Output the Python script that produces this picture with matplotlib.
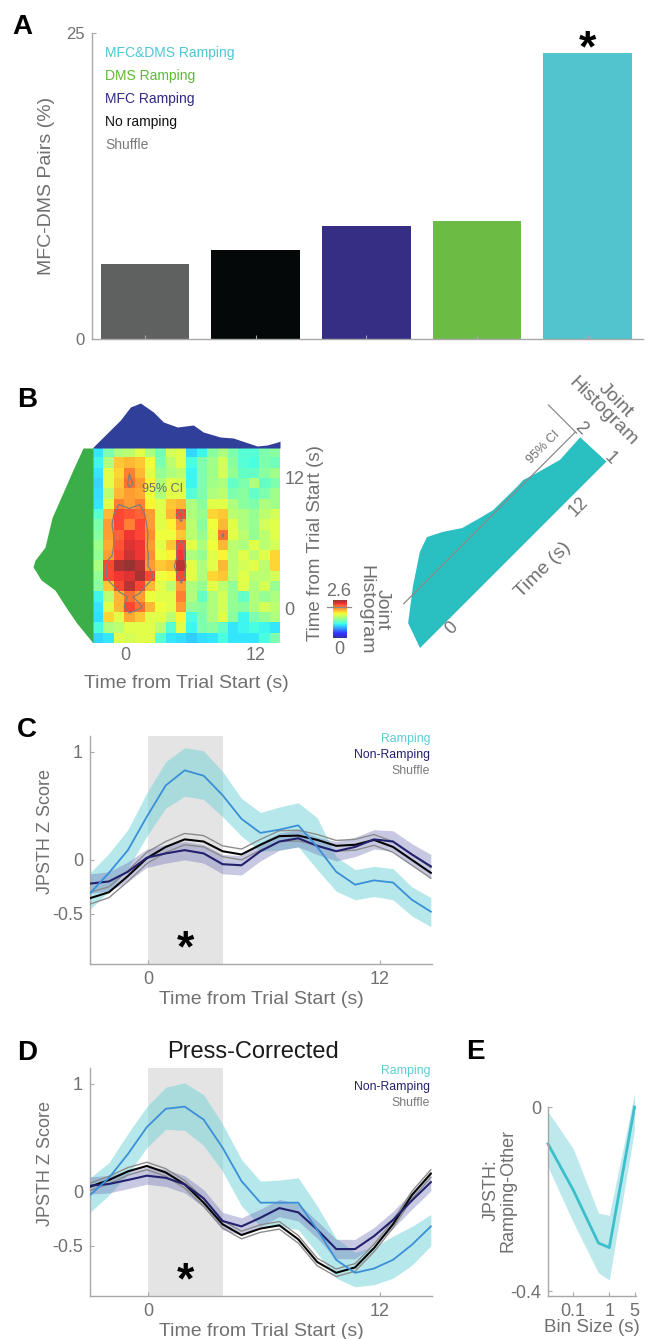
import numpy as np
import matplotlib
matplotlib.use('Agg')
import matplotlib.pyplot as plt
from matplotlib.transforms import Affine2D

plt.rcParams['font.family'] = ['Liberation Sans', 'DejaVu Sans']

# ---------------- Panel A data ----------------
pair_groups = ['Shuffle', 'No ramping', 'MFC Ramping', 'DMS Ramping', 'MFC&DMS Ramping']
pair_pct = [6.1, 7.3, 9.2, 9.6, 23.4]
pair_colors = ['#5f6160', '#050808', '#362d84', '#6bbb45', '#52c4cd']
legend_colors = ['#7a7a7a', '#111111', '#2f2a88', '#5dbb35', '#4fc6d0']

# ---------------- Panel B data ----------------
joint_hist = np.array([
    [0.90, 1.20, 1.40, 1.45, 1.60, 1.40, 1.15, 1.55, 1.60, 0.85, 0.95, 1.25, 1.40, 1.20, 1.05, 1.05, 1.20, 1.25],
    [0.95, 1.40, 1.85, 1.90, 1.85, 1.65, 1.20, 1.45, 1.60, 1.00, 1.20, 1.35, 1.55, 1.25, 1.05, 1.00, 1.20, 1.15],
    [0.90, 1.60, 1.80, 2.10, 1.90, 1.60, 1.30, 1.40, 1.45, 0.95, 1.20, 1.35, 1.55, 1.30, 1.10, 1.10, 1.25, 1.35],
    [0.85, 1.60, 1.85, 2.15, 2.00, 1.70, 1.40, 1.60, 1.55, 0.95, 1.20, 1.35, 1.40, 1.10, 1.20, 1.40, 1.10, 1.20],
    [0.88, 1.45, 1.90, 2.00, 1.95, 1.65, 1.40, 1.60, 1.60, 1.05, 1.20, 1.40, 1.45, 1.20, 1.25, 1.10, 1.20, 1.35],
    [0.90, 1.60, 2.10, 2.00, 2.10, 1.70, 1.60, 1.85, 1.90, 1.40, 1.25, 1.60, 1.60, 1.40, 1.25, 1.20, 1.40, 1.35],
    [1.05, 1.90, 2.30, 2.25, 2.20, 2.00, 1.60, 1.90, 2.30, 1.40, 1.30, 1.80, 1.85, 1.45, 1.40, 1.30, 1.45, 1.55],
    [1.20, 2.00, 2.30, 2.10, 2.30, 2.00, 1.60, 1.70, 2.00, 1.45, 1.25, 1.65, 1.90, 1.60, 1.40, 1.30, 1.55, 1.60],
    [1.25, 2.00, 2.20, 2.35, 2.30, 2.05, 1.65, 1.65, 1.85, 1.45, 1.30, 1.60, 2.15, 1.60, 1.45, 1.30, 1.45, 1.60],
    [1.35, 1.95, 2.25, 2.40, 2.35, 2.00, 1.60, 1.85, 2.30, 1.60, 1.40, 1.65, 1.90, 1.45, 1.40, 1.60, 1.45, 1.55],
    [1.30, 2.00, 2.30, 2.45, 2.35, 2.05, 1.65, 1.70, 2.35, 1.40, 1.30, 1.60, 1.70, 1.45, 1.60, 1.45, 1.60, 1.80],
    [1.40, 2.30, 2.55, 2.60, 2.50, 2.00, 1.85, 1.90, 2.50, 1.60, 1.40, 1.60, 1.90, 1.45, 1.55, 1.60, 1.45, 1.80],
    [1.30, 2.30, 2.35, 2.40, 2.55, 2.30, 1.65, 1.70, 2.30, 1.60, 1.40, 1.80, 1.85, 1.45, 1.60, 1.45, 1.45, 1.55],
    [1.25, 1.85, 2.30, 2.50, 2.30, 1.90, 1.60, 1.45, 2.00, 1.40, 1.30, 1.60, 1.45, 1.30, 1.60, 1.40, 1.55, 1.30],
    [0.95, 1.45, 1.90, 2.15, 2.00, 1.65, 1.60, 1.60, 2.10, 1.40, 1.10, 1.40, 1.55, 1.30, 1.10, 1.40, 1.30, 1.40],
    [0.90, 1.60, 1.90, 2.30, 2.15, 1.90, 1.65, 1.60, 2.00, 1.30, 1.25, 1.40, 1.55, 1.30, 1.25, 1.40, 1.55, 1.45],
    [0.88, 1.80, 1.60, 1.95, 1.85, 1.60, 1.60, 1.45, 1.70, 1.00, 1.20, 1.40, 1.60, 1.25, 0.95, 1.20, 1.30, 1.40],
    [1.00, 1.40, 1.45, 1.60, 1.60, 1.60, 1.45, 1.05, 1.60, 0.95, 1.20, 1.25, 1.10, 0.90, 0.95, 1.00, 0.95, 0.90],
    [0.85, 0.90, 1.60, 1.55, 1.60, 1.60, 1.05, 0.90, 0.88, 0.82, 0.88, 0.90, 1.00, 0.90, 0.90, 0.90, 1.00, 1.20],
])
hm_t_x = (-3.0, 14.3)      # time span of heatmap columns
hm_t_y = (-3.2, 14.7)      # time span of heatmap rows
hm_vmax = 2.6
ci_level = 2.1

mfc_t = [-2.98, -0.46, 0.46, 1.39, 2.59, 3.51, 4.80, 6.28, 7.20, 8.77, 9.97, 12.19, 13.10, 14.10, 14.30]
mfc_v = [1, 28, 41, 45, 36, 26, 21, 23, 16, 11, 10, 2, 3, 6, 7]
dms_t = [-3.2, -1.4, -0.2, 1.65, 2.6, 3.8, 4.4, 5.6, 8.3, 10.6, 12.7, 14.7]
dms_v = [0, 16, 25, 38, 52, 60, 58, 48, 41, 30, 20, 10]

diag_t = [-3.0, -2.37, -0.39, 1.63, 2.69, 3.71, 4.82, 6.17, 7.18, 9.45, 10.08, 11.09, 12.84, 14.90, 15.0]
diag_v = [1.0, 1.62, 2.15, 2.62, 2.75, 2.57, 2.31, 2.18, 2.09, 2.08, 2.09, 1.98, 1.81, 1.85, 1.0]
diag_ci = 2.02

# ---------------- Panels C / D data ----------------
t = [-3.0, -2.02, -1.04, -0.06, 0.92, 1.9, 2.88, 3.86, 4.84, 5.82, 6.8, 7.78,
     8.76, 9.74, 10.72, 11.7, 12.68, 13.66, 14.64]

c_ramp = [-0.31, -0.12, 0.09, 0.40, 0.69, 0.83, 0.78, 0.60, 0.38, 0.25, 0.28, 0.32, 0.12, -0.11, -0.23, -0.19, -0.21, -0.37, -0.48]
c_ramp_hi = [-0.12, 0.06, 0.28, 0.62, 0.91, 1.04, 1.01, 0.82, 0.57, 0.44, 0.49, 0.53, 0.39, 0.03, -0.09, -0.06, -0.08, -0.25, -0.35]
c_ramp_lo = [-0.46, -0.29, -0.08, 0.22, 0.48, 0.59, 0.56, 0.40, 0.22, 0.08, 0.09, 0.12, -0.09, -0.29, -0.37, -0.34, -0.37, -0.52, -0.62]
c_non = [-0.22, -0.20, -0.11, 0.02, 0.06, 0.09, 0.06, -0.04, -0.05, 0.08, 0.17, 0.20, 0.13, 0.08, 0.12, 0.19, 0.17, 0.05, -0.06]
c_non_hi = [-0.13, -0.11, -0.02, 0.10, 0.14, 0.17, 0.14, 0.05, 0.04, 0.16, 0.25, 0.28, 0.21, 0.17, 0.21, 0.28, 0.27, 0.15, 0.05]
c_non_lo = [-0.31, -0.29, -0.20, -0.07, -0.03, 0.00, -0.03, -0.13, -0.14, -0.01, 0.09, 0.12, 0.05, -0.01, 0.03, 0.10, 0.08, -0.05, -0.17]
c_shuf = [-0.355, -0.30, -0.15, 0.015, 0.12, 0.19, 0.17, 0.08, 0.05, 0.14, 0.22, 0.225, 0.185, 0.13, 0.14, 0.185, 0.12, 0.0, -0.12]
c_shuf_hi = [-0.30, -0.25, -0.10, 0.07, 0.17, 0.245, 0.225, 0.13, 0.10, 0.19, 0.27, 0.275, 0.235, 0.18, 0.19, 0.235, 0.17, 0.05, -0.07]
c_shuf_lo = [-0.41, -0.35, -0.20, -0.035, 0.07, 0.14, 0.12, 0.03, 0.0, 0.09, 0.17, 0.175, 0.135, 0.08, 0.09, 0.135, 0.07, -0.05, -0.17]

d_ramp = [-0.03, 0.13, 0.35, 0.60, 0.77, 0.79, 0.67, 0.41, 0.10, -0.10, -0.10, -0.10, -0.35, -0.63, -0.75, -0.71, -0.63, -0.49, -0.32]
d_ramp_hi = [0.13, 0.27, 0.54, 0.79, 0.97, 1.01, 0.90, 0.63, 0.30, 0.10, 0.11, 0.13, -0.13, -0.43, -0.56, -0.51, -0.41, -0.32, -0.21]
d_ramp_lo = [-0.19, -0.03, 0.16, 0.41, 0.58, 0.57, 0.43, 0.19, -0.13, -0.32, -0.32, -0.35, -0.57, -0.80, -0.88, -0.86, -0.80, -0.68, -0.50]
d_non = [0.057, 0.073, 0.11, 0.15, 0.13, 0.07, -0.06, -0.27, -0.32, -0.24, -0.15, -0.19, -0.35, -0.53, -0.53, -0.41, -0.26, -0.08, 0.09]
d_non_hi = [0.14, 0.15, 0.19, 0.23, 0.21, 0.15, 0.02, -0.19, -0.24, -0.16, -0.07, -0.11, -0.27, -0.44, -0.44, -0.33, -0.18, 0.00, 0.17]
d_non_lo = [-0.02, -0.01, 0.03, 0.07, 0.05, -0.01, -0.14, -0.35, -0.40, -0.32, -0.23, -0.27, -0.43, -0.62, -0.62, -0.49, -0.34, -0.16, 0.01]
d_shuf = [0.048, 0.11, 0.19, 0.24, 0.18, 0.07, -0.10, -0.30, -0.40, -0.34, -0.31, -0.44, -0.65, -0.75, -0.70, -0.52, -0.30, -0.03, 0.17]
d_shuf_hi = [0.08, 0.145, 0.225, 0.275, 0.215, 0.105, -0.065, -0.265, -0.365, -0.305, -0.275, -0.405, -0.615, -0.715, -0.665, -0.485, -0.265, 0.005, 0.205]
d_shuf_lo = [0.013, 0.075, 0.155, 0.205, 0.145, 0.035, -0.135, -0.335, -0.435, -0.375, -0.345, -0.475, -0.685, -0.785, -0.735, -0.555, -0.335, -0.065, 0.135]

epoch = (0.0, 3.9)
series_names = ['Ramping', 'Non-Ramping', 'Shuffle']
series_text_colors = ['#5ccdd6', '#23216e', '#7a7a7a']

# ---------------- Panel E data ----------------
bin_size = [0.02, 0.1, 0.5, 1.0, 5.0]
e_diff = [-0.08, -0.18, -0.295, -0.305, 0.0]
e_diff_hi = [-0.01, -0.09, -0.23, -0.235, 0.03]
e_diff_lo = [-0.13, -0.25, -0.36, -0.375, -0.05]

# ---------------- figure ----------------
W, H = 658, 1339
fig = plt.figure(figsize=(W / 100, H / 100), dpi=100)
GRAY = '#707070'
SPINE = '#a8a8a8'


def pax(x0, y0, x1, y1, **kw):
    return fig.add_axes([x0 / W, 1 - y1 / H, (x1 - x0) / W, (y1 - y0) / H], **kw)


def style(ax, labelsize=13):
    for s in ['top', 'right']:
        ax.spines[s].set_visible(False)
    for s in ['left', 'bottom']:
        ax.spines[s].set_color(SPINE)
        ax.spines[s].set_linewidth(1.0)
    ax.tick_params(direction='in', length=3, width=0.8, color=SPINE,
                   labelcolor=GRAY, labelsize=labelsize, pad=5)


ov = fig.add_axes([0, 0, 1, 1], zorder=10)
ov.set_xlim(0, W)
ov.set_ylim(H, 0)
ov.axis('off')

# panel letters
for letter, (x, y) in zip('ABCDE', [(22, 27), (27, 400), (27, 730), (27, 1053), (475, 1052)]):
    ov.text(x, y, letter, fontsize=20, fontweight='bold', ha='center', va='center', color='black')

# ---------------- Panel A ----------------
axA = pax(92, 33, 643, 339)
axA.bar(np.arange(1, 6), pair_pct, width=0.8, color=pair_colors)
axA.set_xlim(0.52, 5.5)
axA.set_ylim(0, 25)
axA.set_yticks([0, 25])
axA.set_xticks(np.arange(1, 6))
axA.set_xticklabels([])
style(axA, 12)
ov.text(47, 186, 'MFC-DMS Pairs (%)', rotation=90, ha='center', va='center', fontsize=14, color=GRAY)
for i, (name, col) in enumerate(zip(pair_groups[::-1], legend_colors[::-1])):
    ov.text(105, 53 + 23 * i, name, color=col, fontsize=10, va='center')
ov.text(587, 50, '*', fontsize=32, fontweight='bold', ha='center', va='center')

# ---------------- Panel B ----------------
axB = pax(93, 448, 280, 643)
extent = [hm_t_x[0], hm_t_x[1], hm_t_y[0], hm_t_y[1]]
im = axB.imshow(joint_hist, cmap='jet', vmin=0, vmax=hm_vmax, extent=extent,
                origin='upper', aspect='auto', interpolation='nearest', alpha=0.8)
nr, nc = joint_hist.shape
dx = (hm_t_x[1] - hm_t_x[0]) / nc
dy = (hm_t_y[1] - hm_t_y[0]) / nr
xc = hm_t_x[0] + dx * (np.arange(nc) + 0.5)
yc = hm_t_y[1] - dy * (np.arange(nr) + 0.5)
axB.contour(xc, yc, joint_hist, levels=[ci_level], colors='#7d7d7d', linewidths=0.9)
axB.set_xlim(hm_t_x)
axB.set_ylim(hm_t_y)
for s in axB.spines.values():
    s.set_visible(False)
axB.set_xticks([0, 12])
axB.set_yticks([0, 12])
axB.yaxis.tick_right()
axB.tick_params(length=0, labelcolor=GRAY, labelsize=13, pad=3)
ov.text(162, 489, '95% CI', fontsize=9, color='#6a6a6a', ha='center', va='center')
ov.text(186, 683, 'Time from Trial Start (s)', fontsize=14, color=GRAY, ha='center', va='center')
ov.text(315, 543, 'Time from Trial Start (s)', fontsize=13.5, color=GRAY, ha='center', va='center', rotation=90)

axT = pax(93, 400, 280, 448)
axT.fill_between(mfc_t, mfc_v, 0, color='#2f3f9a', lw=0)
axT.set_xlim(hm_t_x)
axT.set_ylim(0, 48)
axT.axis('off')

axL = pax(30, 448, 93, 643)
axL.fill_betweenx(dms_t, dms_v, 0, color='#3aaf48', lw=0)
axL.set_xlim(63, 0)
axL.set_ylim(hm_t_y)
axL.axis('off')

axCb = pax(333, 600, 347, 638)
cb = fig.colorbar(im, cax=axCb)
cb.set_ticks([])
cb.outline.set_visible(False)
axCb.plot([-0.4, 1.3], [ci_level, ci_level], color='#8a8a8a', lw=0.9, clip_on=False,
          transform=axCb.get_yaxis_transform())
ov.text(339, 591, '2.6', fontsize=13, color=GRAY, ha='center', va='center')
ov.text(339, 650, '0', fontsize=13, color=GRAY, ha='center', va='center')
ov.text(374, 610, 'Joint\nHistogram', fontsize=14, color=GRAY, ha='center', va='center',
        rotation=270, linespacing=1.0)

# 3D-like diagonal histogram
a, b = 14.65 * 0.7071, 42 * 0.7071
bx0, by0 = 420.0, 648.0
T = Affine2D.from_values(a, -a, -b, -b, bx0 + 3 * a + b, by0 - 3 * a + b) + ov.transData
ov.fill(diag_t, diag_v, color='#2abfc0', lw=0, transform=T)
ov.plot([-1.65, 14.93], [diag_ci, diag_ci], color='#8a8a8a', lw=0.9, transform=T)
ov.plot([14.93, 14.93], [1.98, 2.93], color='#8a8a8a', lw=0.9, transform=T)
ov.text(-0.5, 0.80, '0', transform=T, rotation=45, fontsize=13, color=GRAY, ha='center', va='center')
ov.text(11.43, 0.71, '12', transform=T, rotation=45, fontsize=13, color=GRAY, ha='center', va='center')
ov.text(6.7, 0.24, 'Time (s)', transform=T, rotation=45, fontsize=14, color=GRAY, ha='center', va='center')
ov.text(15.35, 1.0, '1', transform=T, rotation=-45, fontsize=13, color=GRAY, ha='center', va='center')
ov.text(15.35, 2.0, '2', transform=T, rotation=-45, fontsize=13, color=GRAY, ha='center', va='center')
ov.text(12.64, 2.31, '95% CI', transform=T, rotation=45, fontsize=9, color=GRAY, ha='center', va='center')
ov.text(609, 406, 'Joint\nHistogram', rotation=-45, fontsize=14, color=GRAY, ha='center', va='center',
        linespacing=1.0)


# ---------------- Panels C and D ----------------
def jpsth_panel(box, ramp, rhi, rlo, non, nhi, nlo, shuf, shi, slo, star_y, legend_y):
    ax = pax(*box)
    ax.axvspan(epoch[0], epoch[1], color='#e4e4e4', lw=0, zorder=0)
    ax.fill_between(t, rlo, rhi, color='#6fd3d8', alpha=0.5, lw=0, zorder=1)
    ax.fill_between(t, nlo, nhi, color='#6d70b5', alpha=0.38, lw=0, zorder=2)
    ax.plot(t, shi, color='#8c8c8c', lw=1.0, zorder=3)
    ax.plot(t, slo, color='#8c8c8c', lw=1.0, zorder=3)
    ax.plot(t, shuf, color='#050505', lw=1.5, zorder=4)
    ax.plot(t, non, color='#23216e', lw=1.5, zorder=4)
    ax.plot(t, ramp, color='#3b8fd6', lw=1.3, zorder=5)
    ax.set_xlim(-3, 14.7)
    ax.set_ylim(-0.965, 1.148)
    ax.set_xticks([0, 12])
    ax.set_yticks([-0.5, 0, 1])
    ax.set_yticklabels(['-0.5', '0', '1'])
    style(ax, 13)
    ov.text(185, star_y, '*', fontsize=32, fontweight='bold', ha='center', va='center')
    for i, (name, col) in enumerate(zip(series_names, series_text_colors)):
        ov.text(430, legend_y + 16 * i, name, color=col, fontsize=8.8, ha='right', va='center')
    ov.text(45, (box[1] + box[3]) / 2 - 18, 'JPSTH Z Score', rotation=90, fontsize=13, color=GRAY,
            ha='center', va='center')
    ov.text(261, box[3] + 36, 'Time from Trial Start (s)', fontsize=14, color=GRAY, ha='center', va='center')
    return ax


jpsth_panel((90, 736, 432, 964), c_ramp, c_ramp_hi, c_ramp_lo, c_non, c_non_hi, c_non_lo,
            c_shuf, c_shuf_hi, c_shuf_lo, 950, 739)
jpsth_panel((90, 1068, 432, 1296), d_ramp, d_ramp_hi, d_ramp_lo, d_non, d_non_hi, d_non_lo,
            d_shuf, d_shuf_hi, d_shuf_lo, 1282, 1071)
ov.text(253, 1052, 'Press-Corrected', fontsize=17, color='#1a1a1a', ha='center', va='center')

# ---------------- Panel E ----------------
axE = pax(548, 1107, 636, 1296)
axE.fill_between(bin_size, e_diff_lo, e_diff_hi, color='#5cc8d0', alpha=0.4, lw=0, clip_on=False)
axE.plot(bin_size, e_diff, color='#3bbfca', lw=2.0, clip_on=False)
axE.set_xscale('log')
axE.set_xlim(0.02, 5.5)
axE.set_ylim(-0.41, 0.0)
axE.set_xticks([0.1, 1, 5])
axE.set_xticklabels(['0.1', '1', '5'])
axE.minorticks_off()
axE.set_yticks([-0.4, 0])
axE.set_yticklabels(['-0.4', '0'])
style(axE, 13)
ov.text(500, 1190, 'JPSTH:\nRamping-Other', rotation=90, fontsize=13, color=GRAY, ha='center', va='center',
        linespacing=1.0)
ov.text(592, 1327, 'Bin Size (s)', fontsize=13.5, color=GRAY, ha='center', va='center')

fig.savefig('out.png', dpi=100)
